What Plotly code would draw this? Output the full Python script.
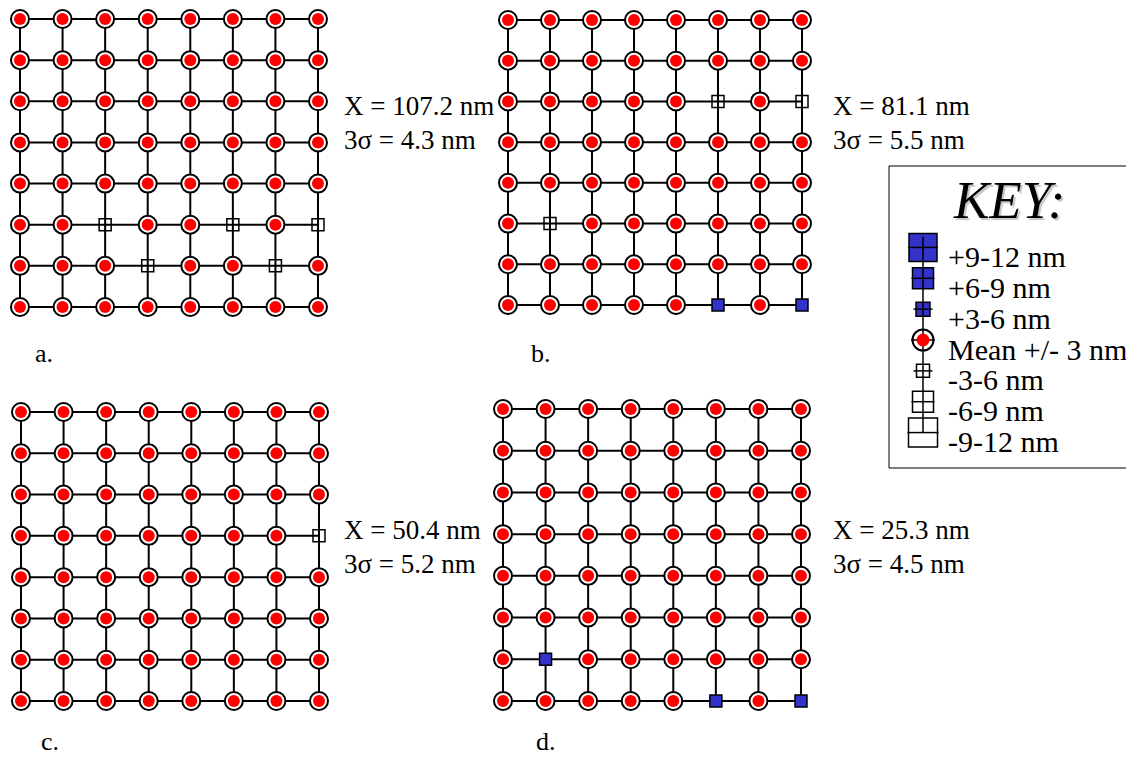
import plotly.graph_objects as go

W, H = 1134, 757

# ---------------- data ----------------
panel_labels = ["a.", "b.", "c.", "d."]
mean_nm = [107.2, 81.1, 50.4, 25.3]
three_sigma_nm = [4.3, 5.5, 5.2, 4.5]

# deviation class per site (row 1 = top); 0 = mean +/- 3 nm,
# +1 = +3-6, +2 = +6-9, +3 = +9-12, -1 = -3-6, -2 = -6-9, -3 = -9-12
dev_a = [
    [0, 0, 0, 0, 0, 0, 0, 0],
    [0, 0, 0, 0, 0, 0, 0, 0],
    [0, 0, 0, 0, 0, 0, 0, 0],
    [0, 0, 0, 0, 0, 0, 0, 0],
    [0, 0, 0, 0, 0, 0, 0, 0],
    [0, 0, -1, 0, 0, -1, 0, -1],
    [0, 0, 0, -1, 0, 0, -1, 0],
    [0, 0, 0, 0, 0, 0, 0, 0],
]
dev_b = [
    [0, 0, 0, 0, 0, 0, 0, 0],
    [0, 0, 0, 0, 0, 0, 0, 0],
    [0, 0, 0, 0, 0, -1, 0, -1],
    [0, 0, 0, 0, 0, 0, 0, 0],
    [0, 0, 0, 0, 0, 0, 0, 0],
    [0, -1, 0, 0, 0, 0, 0, 0],
    [0, 0, 0, 0, 0, 0, 0, 0],
    [0, 0, 0, 0, 0, 1, 0, 1],
]
dev_c = [
    [0, 0, 0, 0, 0, 0, 0, 0],
    [0, 0, 0, 0, 0, 0, 0, 0],
    [0, 0, 0, 0, 0, 0, 0, 0],
    [0, 0, 0, 0, 0, 0, 0, -1],
    [0, 0, 0, 0, 0, 0, 0, 0],
    [0, 0, 0, 0, 0, 0, 0, 0],
    [0, 0, 0, 0, 0, 0, 0, 0],
    [0, 0, 0, 0, 0, 0, 0, 0],
]
dev_d = [
    [0, 0, 0, 0, 0, 0, 0, 0],
    [0, 0, 0, 0, 0, 0, 0, 0],
    [0, 0, 0, 0, 0, 0, 0, 0],
    [0, 0, 0, 0, 0, 0, 0, 0],
    [0, 0, 0, 0, 0, 0, 0, 0],
    [0, 0, 0, 0, 0, 0, 0, 0],
    [0, 1, 0, 0, 0, 0, 0, 0],
    [0, 0, 0, 0, 0, 1, 0, 1],
]
panels_dev = [dev_a, dev_b, dev_c, dev_d]

key_levels = [3, 2, 1, 0, -1, -2, -3]
key_labels = ["+9-12 nm", "+6-9 nm", "+3-6 nm", "Mean +/- 3 nm",
              "-3-6 nm", "-6-9 nm", "-9-12 nm"]

# ---------------- styles ----------------
FONT = "Liberation Serif, Times New Roman, serif"
RED = "#ff0000"
BLUE = "#3333cc"
grid_sq_size = {1: 12, 2: 18, 3: 24, -1: 12, -2: 18, -3: 24}
key_sq_size = {3: 28, 2: 21, 1: 14, -1: 13, -2: 21, -3: 29}

OFF = 8  # page body margin


def pxx(px):
    return (px - OFF) / W


def pxy(py):
    return 1 - (py - OFF) / H


# pixel positions of the grid centres: (first col x, last col x, first row y, last row y)
panel_px = [(20, 318, 19, 307), (508, 802, 20, 305),
            (21, 319, 412, 701), (503, 801, 409, 701)]
text_px = [(342, 106), (831, 106), (342, 530), (831, 530)]
label_px = [(44, 353), (541, 353), (50, 741), (546, 741)]

fig = go.Figure()
layout = dict(width=W, height=H, margin=dict(l=0, r=0, t=0, b=0),
              plot_bgcolor="white", paper_bgcolor="white", showlegend=False)
annotations = []
shapes = []

PAD = 0.2
for i, dev in enumerate(panels_dev):
    k = i + 1
    n_rows = len(dev)
    n_cols = len(dev[0])
    x1, x8, y1, y8 = panel_px[i]
    sx = (x8 - x1) / (n_cols - 1)
    sy = (y8 - y1) / (n_rows - 1)
    xa = f"x{k}" if k > 1 else "x"
    ya = f"y{k}" if k > 1 else "y"
    layout[f"xaxis{k}" if k > 1 else "xaxis"] = dict(
        domain=[pxx(x1 - PAD * sx), pxx(x8 + PAD * sx)],
        range=[1 - PAD, n_cols + PAD], visible=False, anchor=ya)
    layout[f"yaxis{k}" if k > 1 else "yaxis"] = dict(
        domain=[pxy(y8 + PAD * sy), pxy(y1 - PAD * sy)],
        range=[n_rows + PAD, 1 - PAD], visible=False, anchor=xa)

    # grid lines
    gx, gy = [], []
    for r in range(1, n_rows + 1):
        gx += [1, n_cols, None]
        gy += [r, r, None]
    for c in range(1, n_cols + 1):
        gx += [c, c, None]
        gy += [1, n_rows, None]
    fig.add_trace(go.Scatter(x=gx, y=gy, mode="lines", xaxis=xa, yaxis=ya, cliponaxis=False,
                             line=dict(color="black", width=2), hoverinfo="skip"))

    # site markers
    cx, cy, sqx, sqy, sqsize, sqcol = [], [], [], [], [], []
    for r in range(n_rows):
        for c in range(n_cols):
            v = dev[r][c]
            if v == 0:
                cx.append(c + 1)
                cy.append(r + 1)
            else:
                sqx.append(c + 1)
                sqy.append(r + 1)
                sqsize.append(grid_sq_size[v])
                sqcol.append(BLUE if v > 0 else "rgba(0,0,0,0)")
    fig.add_trace(go.Scatter(x=cx, y=cy, mode="markers", xaxis=xa, yaxis=ya, cliponaxis=False,
                             marker=dict(symbol="circle", size=18, color="white", opacity=1,
                                         line=dict(color="black", width=2))))
    fig.add_trace(go.Scatter(x=cx, y=cy, mode="markers", xaxis=xa, yaxis=ya, cliponaxis=False,
                             marker=dict(symbol="circle", size=12, color=RED, opacity=1,
                                         line=dict(width=0))))
    fig.add_trace(go.Scatter(x=sqx, y=sqy, mode="markers", xaxis=xa, yaxis=ya, cliponaxis=False,
                             marker=dict(symbol="square", size=sqsize, color=sqcol, opacity=1,
                                         line=dict(color="black", width=1.5))))

    tx, ty = text_px[i]
    annotations.append(dict(x=pxx(tx), y=pxy(ty), xref="paper", yref="paper",
                            xanchor="left", yanchor="middle", showarrow=False,
                            text=f"X = {mean_nm[i]} nm",
                            font=dict(family=FONT, size=27, color="black")))
    annotations.append(dict(x=pxx(tx), y=pxy(ty + 34), xref="paper", yref="paper",
                            xanchor="left", yanchor="middle", showarrow=False,
                            text=f"3\u03c3 = {three_sigma_nm[i]} nm",
                            font=dict(family=FONT, size=27, color="black")))
    lx, ly = label_px[i]
    annotations.append(dict(x=pxx(lx), y=pxy(ly), xref="paper", yref="paper",
                            xanchor="center", yanchor="middle", showarrow=False,
                            text=panel_labels[i],
                            font=dict(family=FONT, size=26, color="black")))

# ---------------- key ----------------
shapes.append(dict(type="rect", xref="paper", yref="paper",
                   x0=pxx(889), x1=pxx(1133), y0=pxy(468), y1=pxy(166),
                   line=dict(color="black", width=1), fillcolor="rgba(0,0,0,0)"))
annotations.append(dict(x=pxx(1009), y=pxy(200), xref="paper", yref="paper",
                        xanchor="center", yanchor="middle", showarrow=False,
                        text="<i>KEY:</i>",
                        font=dict(family=FONT, size=53, color="black",
                                  shadow="2px 2px 1px #c4c4c4")))

nk = len(key_levels)
layout["xaxis5"] = dict(domain=[pxx(903), pxx(943)], range=[-1, 1], visible=False, anchor="y5")
layout["yaxis5"] = dict(domain=[pxy(448), pxy(232)], range=[nk - 0.5, -0.5],
                        visible=False, anchor="x5")
kpos = list(range(nk))
PX_PER_UNIT = 20.0

# marker bodies
k_sq_y = [kpos[j] for j, v in enumerate(key_levels) if v != 0]
k_sq_s = [key_sq_size[v] for v in key_levels if v != 0]
k_sq_c = [BLUE if v > 0 else "white" for v in key_levels if v != 0]
k_c_y = [kpos[j] for j, v in enumerate(key_levels) if v == 0]
fig.add_trace(go.Scatter(x=[0] * len(k_sq_y), y=k_sq_y, mode="markers", xaxis="x5", yaxis="y5",
                         cliponaxis=False,
                         marker=dict(symbol="square", size=k_sq_s, color=k_sq_c, opacity=1,
                                     line=dict(color="black", width=1.5))))
fig.add_trace(go.Scatter(x=[0] * len(k_c_y), y=k_c_y, mode="markers", xaxis="x5", yaxis="y5",
                         cliponaxis=False,
                         marker=dict(symbol="circle", size=21, color="white", opacity=1,
                                     line=dict(color="black", width=2))))
# line through markers
kx, ky = [0, 0, None], [kpos[0] - 0.35, kpos[-1], None]
for j, v in enumerate(key_levels):
    half = (max(key_sq_size.get(v, 22), 17) / 2 + 1) / PX_PER_UNIT
    kx += [-half, half, None]
    ky += [kpos[j], kpos[j], None]
fig.add_trace(go.Scatter(x=kx, y=ky, mode="lines", xaxis="x5", yaxis="y5", cliponaxis=False,
                         line=dict(color="black", width=1.5), hoverinfo="skip"))
fig.add_trace(go.Scatter(x=[0] * len(k_c_y), y=k_c_y, mode="markers", xaxis="x5", yaxis="y5",
                         cliponaxis=False,
                         marker=dict(symbol="circle", size=13, color=RED, opacity=1,
                                     line=dict(width=0))))
for j, lab in enumerate(key_labels):
    annotations.append(dict(x=pxx(946), y=kpos[j], xref="paper", yref="y5",
                            xanchor="left", yanchor="middle", yshift=-9, showarrow=False,
                            text=lab, font=dict(family=FONT, size=30, color="black")))

layout["annotations"] = annotations
layout["shapes"] = shapes
fig.update_layout(**layout)
fig.write_html("out.html")
